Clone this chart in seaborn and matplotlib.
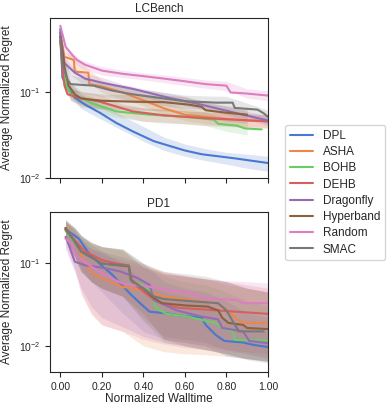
import matplotlib

matplotlib.use("Agg")
import matplotlib.pyplot as plt
import numpy as np
import pandas as pd
import seaborn as sns
from matplotlib.ticker import FormatStrFormatter, LogLocator, NullLocator

METHODS = ["DPL", "ASHA", "BOHB", "DEHB", "Dragonfly", "Hyperband", "Random", "SMAC"]
nan = np.nan

# ---- LCBench: mean curves (x, y) per method ----
LC_X = {
    "DPL": [0, 0.01, 0.035, 0.07, 0.12, 0.19, 0.27, 0.35, 0.45, 0.52, 0.6, 0.68, 0.84, 1.0],
    "ASHA": [0, 0.02, 0.065, 0.07, 0.135, 0.14, 0.2, 0.3, 0.43, 0.5, 0.6, 0.76, 0.9, 1.0],
    "BOHB": [0, 0.02, 0.035, 0.05, 0.1, 0.15, 0.27, 0.43, 0.6, 0.74, 0.76, 0.85, 0.89, 0.97],
    "DEHB": [0, 0.01, 0.02, 0.035, 0.09, 0.19, 0.35, 0.5, 0.7, 0.85, 1.0],
    "Dragonfly": [0, 0.02, 0.07, 0.12, 0.2, 0.35, 0.52, 0.68, 0.84, 1.0],
    "Hyperband": [0, 0.02, 0.04, 0.07, 0.1, 0.2, 0.35, 0.5, 0.62, 0.68, 0.7, 0.8, 0.9],
    "Random": [0, 0.026, 0.06, 0.08, 0.12, 0.2, 0.3, 0.4, 0.5, 0.6, 0.7, 0.8, 0.82, 0.9, 1.0],
    "SMAC": [0, 0.01, 0.035, 0.05, 0.16, 0.25, 0.35, 0.5, 0.6, 0.75, 0.83, 0.84, 0.95, 0.98, 1.0],
}
LC_Y = {
    "DPL": [0.55, 0.15, 0.11, 0.087, 0.072, 0.058, 0.044, 0.035, 0.027, 0.024, 0.021, 0.019, 0.017, 0.015],
    "ASHA": [0.5, 0.26, 0.24, 0.175, 0.17, 0.125, 0.118, 0.1, 0.076, 0.065, 0.055, 0.05, 0.047, 0.046],
    "BOHB": [0.4, 0.15, 0.11, 0.095, 0.087, 0.075, 0.06, 0.055, 0.052, 0.048, 0.043, 0.041, 0.038, 0.037],
    "DEHB": [0.4, 0.19, 0.12, 0.095, 0.087, 0.078, 0.06, 0.054, 0.05, 0.048, 0.046],
    "Dragonfly": [0.5, 0.22, 0.17, 0.145, 0.13, 0.11, 0.087, 0.072, 0.058, 0.047],
    "Hyperband": [0.45, 0.2, 0.12, 0.095, 0.085, 0.08, 0.078, 0.077, 0.072, 0.068, 0.062, 0.058, 0.055],
    "Random": [0.6, 0.34, 0.27, 0.24, 0.21, 0.18, 0.165, 0.155, 0.145, 0.135, 0.125, 0.12, 0.1, 0.097, 0.092],
    "SMAC": [0.45, 0.21, 0.14, 0.125, 0.12, 0.105, 0.095, 0.085, 0.079, 0.076, 0.076, 0.066, 0.063, 0.057, 0.052],
}
# LCBench bands on a shared grid
LC_BAND_X = [0, 0.02, 0.05, 0.1, 0.2, 0.3, 0.4, 0.5, 0.6, 0.7, 0.8, 0.9, 1.0]
LC_LO = {
    "DPL": [0.5, 0.12, 0.085, 0.065, 0.048, 0.036, 0.027, 0.021, 0.018, 0.016, 0.0145, 0.013, 0.012],
    "ASHA": [0.45, 0.22, 0.2, 0.15, 0.1, 0.085, 0.07, 0.055, 0.047, 0.043, 0.041, 0.04, 0.039],
    "BOHB": [0.34, 0.13, 0.08, 0.073, 0.056, 0.05, 0.046, 0.045, 0.043, 0.041, 0.035, 0.032, nan],
    "DEHB": [0.34, 0.11, 0.08, 0.072, 0.064, 0.052, 0.046, 0.044, 0.043, 0.041, 0.04, 0.039, 0.038],
    "Dragonfly": [0.44, 0.2, 0.16, 0.13, 0.115, 0.1, 0.09, 0.077, 0.07, 0.062, 0.055, 0.048, 0.041],
    "Hyperband": [0.38, 0.16, 0.09, 0.068, 0.064, 0.063, 0.062, 0.061, 0.059, 0.05, 0.046, 0.044, nan],
    "Random": [0.55, 0.31, 0.24, 0.19, 0.16, 0.15, 0.14, 0.13, 0.12, 0.112, 0.105, 0.086, 0.08],
    "SMAC": [0.37, 0.15, 0.1, 0.1, 0.09, 0.082, 0.075, 0.07, 0.065, 0.063, 0.062, 0.052, 0.043],
}
LC_HI = {
    "DPL": [0.6, 0.18, 0.125, 0.095, 0.07, 0.053, 0.04, 0.03, 0.025, 0.022, 0.02, 0.019, 0.018],
    "ASHA": [0.55, 0.3, 0.28, 0.22, 0.14, 0.115, 0.1, 0.078, 0.065, 0.06, 0.058, 0.056, 0.055],
    "BOHB": [0.46, 0.18, 0.115, 0.1, 0.08, 0.07, 0.066, 0.063, 0.061, 0.059, 0.05, 0.045, nan],
    "DEHB": [0.46, 0.17, 0.11, 0.102, 0.092, 0.073, 0.066, 0.064, 0.061, 0.059, 0.058, 0.056, 0.055],
    "Dragonfly": [0.56, 0.26, 0.21, 0.17, 0.15, 0.125, 0.11, 0.1, 0.09, 0.078, 0.069, 0.06, 0.053],
    "Hyperband": [0.52, 0.24, 0.13, 0.102, 0.096, 0.095, 0.094, 0.093, 0.089, 0.075, 0.07, 0.066, nan],
    "Random": [0.65, 0.38, 0.3, 0.24, 0.2, 0.182, 0.17, 0.16, 0.15, 0.14, 0.135, 0.11, 0.105],
    "SMAC": [0.53, 0.25, 0.16, 0.15, 0.13, 0.118, 0.108, 0.1, 0.093, 0.091, 0.09, 0.075, 0.062],
}

# ---- PD1: mean curves ----
PD_X = {
    "DPL": [0.025, 0.09, 0.14, 0.2, 0.25, 0.29, 0.34, 0.39, 0.43, 0.5, 0.6, 0.68, 0.7, 0.75, 0.79, 0.88, 0.93, 1.0],
    "ASHA": [0.025, 0.07, 0.12, 0.155, 0.24, 0.3, 0.37, 0.43, 0.5, 0.56, 0.75, 0.79, 0.85, 0.89, 1.0],
    "BOHB": [0.025, 0.06, 0.1, 0.2, 0.33, 0.34, 0.4, 0.44, 0.46, 0.51, 0.6, 0.75, 0.78, 0.83, 0.84, 1.0],
    "DEHB": [0.025, 0.06, 0.12, 0.2, 0.27, 0.33, 0.34, 0.35, 0.43, 0.46, 0.52, 0.57, 0.75, 1.0],
    "Dragonfly": [0.025, 0.04, 0.07, 0.12, 0.19, 0.29, 0.37, 0.43, 0.45, 0.56, 0.67, 0.76, 0.78, 0.88, 0.91, 1.0],
    "Hyperband": [0.025, 0.06, 0.1, 0.2, 0.33, 0.34, 0.4, 0.44, 0.49, 0.6, 0.71, 0.76, 0.78, 0.81, 0.88, 0.9, 1.0],
    "Random": [0.025, 0.06, 0.07, 0.14, 0.2, 0.3, 0.43, 0.56, 0.62, 0.69, 0.85, 0.88, 1.0],
    "SMAC": [0.025, 0.06, 0.1, 0.2, 0.33, 0.34, 0.4, 0.45, 0.5, 0.62, 0.76, 0.8, 0.83, 0.86, 0.98],
}
PD_Y = {
    "DPL": [0.26, 0.2, 0.13, 0.094, 0.073, 0.057, 0.042, 0.032, 0.026, 0.025, 0.023, 0.022, 0.018, 0.0135, 0.0115, 0.011, 0.0103, 0.0097],
    "ASHA": [0.27, 0.19, 0.1, 0.075, 0.06, 0.052, 0.049, 0.045, 0.04, 0.038, 0.033, 0.029, 0.021, 0.019, 0.019],
    "BOHB": [0.25, 0.19, 0.14, 0.1, 0.092, 0.06, 0.055, 0.045, 0.029, 0.0245, 0.023, 0.019, 0.0165, 0.015, 0.0118, 0.0117],
    "DEHB": [0.26, 0.2, 0.14, 0.11, 0.1, 0.095, 0.07, 0.058, 0.04, 0.035, 0.031, 0.029, 0.027, 0.0245],
    "Dragonfly": [0.21, 0.17, 0.105, 0.095, 0.09, 0.08, 0.067, 0.055, 0.036, 0.027, 0.023, 0.021, 0.0165, 0.015, 0.0115, 0.0108],
    "Hyperband": [0.27, 0.2, 0.14, 0.1, 0.092, 0.063, 0.05, 0.04, 0.033, 0.031, 0.03, 0.027, 0.022, 0.019, 0.018, 0.0165, 0.016],
    "Random": [0.2, 0.17, 0.13, 0.095, 0.076, 0.057, 0.052, 0.046, 0.044, 0.038, 0.036, 0.033, 0.033],
    "SMAC": [0.26, 0.2, 0.14, 0.1, 0.093, 0.062, 0.05, 0.04, 0.037, 0.035, 0.033, 0.027, 0.02, 0.015, 0.015],
}
PD_BAND_X = [0.025, 0.07, 0.1, 0.15, 0.2, 0.3, 0.4, 0.5, 0.6, 0.7, 0.8, 0.9, 1.0]
PD_LO = {
    "DPL": [0.2, 0.13, 0.09, 0.06, 0.045, 0.025, 0.015, 0.012, 0.011, 0.01, 0.0075, 0.007, 0.0065],
    "ASHA": [0.2, 0.09, 0.045, 0.024, 0.018, 0.015, 0.01, 0.0085, 0.008, 0.0078, 0.0075, 0.007, 0.0066],
    "BOHB": [0.19, 0.12, 0.08, 0.06, 0.05, 0.04, 0.02, 0.011, 0.01, 0.009, 0.008, 0.007, 0.0065],
    "DEHB": [0.2, 0.12, 0.08, 0.06, 0.05, 0.04, 0.02, 0.012, 0.011, 0.01, 0.009, 0.0085, 0.008],
    "Dragonfly": [0.16, 0.08, 0.05, 0.03, 0.022, 0.017, 0.013, 0.011, 0.01, 0.009, 0.008, 0.0068, 0.0062],
    "Hyperband": [0.2, 0.12, 0.08, 0.06, 0.05, 0.04, 0.025, 0.012, 0.01, 0.009, 0.008, 0.007, 0.0065],
    "Random": [0.15, 0.08, 0.042, 0.025, 0.018, 0.015, 0.012, 0.0105, 0.0095, 0.009, 0.0085, 0.008, 0.0075],
    "SMAC": [0.2, 0.12, 0.08, 0.06, 0.05, 0.04, 0.022, 0.013, 0.012, 0.011, 0.009, 0.008, 0.007],
}
PD_HI = {
    "DPL": [0.32, 0.27, 0.22, 0.17, 0.14, 0.1, 0.06, 0.045, 0.04, 0.035, 0.02, 0.017, 0.015],
    "ASHA": [0.33, 0.25, 0.2, 0.15, 0.13, 0.11, 0.095, 0.08, 0.07, 0.065, 0.055, 0.05, 0.045],
    "BOHB": [0.32, 0.25, 0.2, 0.17, 0.16, 0.145, 0.09, 0.07, 0.06, 0.055, 0.045, 0.035, 0.03],
    "DEHB": [0.33, 0.26, 0.21, 0.18, 0.16, 0.145, 0.09, 0.075, 0.07, 0.065, 0.06, 0.055, 0.05],
    "Dragonfly": [0.28, 0.22, 0.17, 0.15, 0.14, 0.12, 0.1, 0.06, 0.05, 0.045, 0.035, 0.025, 0.022],
    "Hyperband": [0.34, 0.27, 0.22, 0.18, 0.16, 0.15, 0.1, 0.075, 0.07, 0.065, 0.06, 0.05, 0.045],
    "Random": [0.28, 0.23, 0.19, 0.15, 0.13, 0.1, 0.09, 0.078, 0.072, 0.065, 0.062, 0.06, 0.058],
    "SMAC": [0.34, 0.27, 0.22, 0.18, 0.16, 0.15, 0.1, 0.08, 0.075, 0.07, 0.06, 0.05, 0.045],
}


def long_frame(xs, ys):
    rows = []
    for m in METHODS:
        for x, y in zip(xs[m], ys[m]):
            rows.append({"method": m, "walltime": x, "regret": y})
    return pd.DataFrame(rows)


sns.set_style("ticks")
plt.rcParams["font.family"] = ["Liberation Sans", "DejaVu Sans"]
plt.rcParams["mathtext.default"] = "regular"
palette = dict(zip(METHODS, sns.color_palette("muted", len(METHODS))))

fig, axes = plt.subplots(2, 1, figsize=(3.9, 4.09), dpi=100, sharex=True)
fig.subplots_adjust(left=0.128, right=0.687, top=0.956, bottom=0.09, hspace=0.2125)

panels = [
    ("LCBench", LC_X, LC_Y, LC_BAND_X, LC_LO, LC_HI, (0.01, 0.74)),
    ("PD1", PD_X, PD_Y, PD_BAND_X, PD_LO, PD_HI, (0.0048, 0.42)),
]
for ax, (title, xs, ys, bx, lo, hi, ylim) in zip(axes, panels):
    for m in METHODS:
        ax.fill_between(bx, lo[m], hi[m], color=palette[m], alpha=0.18, linewidth=0)
    sns.lineplot(data=long_frame(xs, ys), x="walltime", y="regret", hue="method",
                 palette=palette, hue_order=METHODS, linewidth=1.5, ax=ax,
                 estimator=None, legend=(ax is axes[0]))
    ax.set_yscale("log")
    ax.set_ylim(*ylim)
    ax.set_xlim(-0.05, 1.0)
    ax.yaxis.set_major_locator(LogLocator(base=10, numticks=10))
    ax.yaxis.set_minor_locator(NullLocator())
    ax.set_title(title, fontsize=8.5, pad=4)
    ax.set_ylabel("Average Normalized Regret", fontsize=8.5)
    ax.set_xlabel("")
    ax.tick_params(labelsize=7.5)

axes[1].set_xticks([0, 0.2, 0.4, 0.6, 0.8, 1.0])
axes[1].xaxis.set_major_formatter(FormatStrFormatter("%.2f"))
axes[1].set_xlabel("Normalized Walltime", fontsize=8.5, labelpad=1)

handles, labels = axes[0].get_legend_handles_labels()
axes[0].get_legend().remove()
fig.legend(handles, labels, loc="center left", bbox_to_anchor=(0.716, 0.529),
           fontsize=8.5, frameon=True, labelspacing=0.36)

fig.savefig("out.png", dpi=100)
